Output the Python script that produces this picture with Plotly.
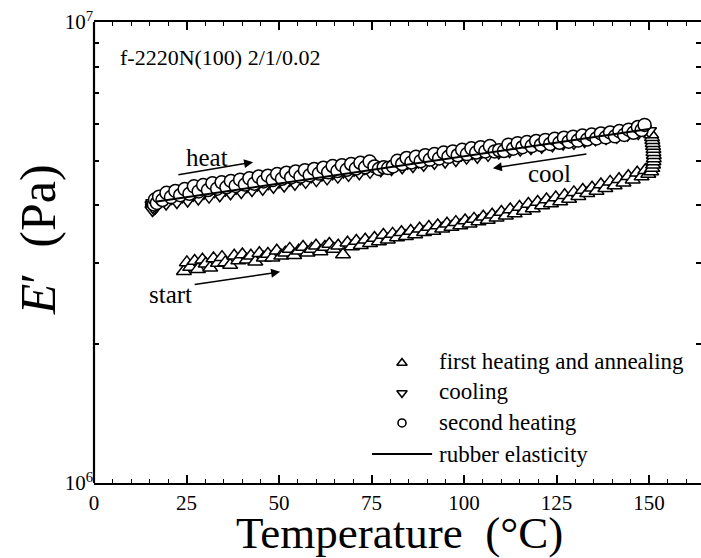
import plotly.graph_objects as go

# First heating and annealing (upward triangles): temperature in degC, modulus in MPa
first_T = [24.3, 25.1, 26.0, 27.2, 28.1, 29.3, 30.2, 31.4, 32.3, 33.5, 34.6, 35.5, 36.8, 37.9,
           39.0, 40.1, 41.3, 42.4, 43.6, 44.7, 45.9, 47.0, 48.2, 49.4, 50.6, 51.7, 52.9, 54.1,
           55.3, 56.5, 57.7, 58.8, 60.0, 61.2, 62.4, 63.6, 64.8, 66.0, 67.3, 68.5, 69.7, 70.9,
           72.1, 73.3, 74.6, 75.8, 77.0, 78.2, 79.4, 80.7, 81.9, 83.1, 84.3, 85.6, 86.8, 88.0,
           89.2, 90.5, 91.7, 92.9, 94.1, 95.4, 96.6, 97.8, 99.0, 100.3, 101.5, 102.7, 103.9,
           105.2, 106.4, 107.6, 108.8, 110.1, 111.3, 112.5, 113.7, 115.0, 116.2, 117.4, 118.6,
           119.9, 121.1, 122.3, 123.5, 124.8, 126.0, 127.2, 128.4, 129.7, 130.9, 132.1, 133.3,
           134.6, 135.8, 137.0, 138.2, 139.5, 140.7, 141.9, 143.1, 144.4, 145.6, 146.8, 148.0,
           149.0, 149.8, 150.6, 150.9, 151.1, 151.2, 151.3, 151.3, 151.2, 151.2, 151.1, 151.0,
           150.9, 150.8, 150.6]
first_E = [2.88, 3.01, 2.94, 3.03, 2.91, 3.05, 2.99, 2.93, 3.07, 3.00, 3.09, 3.01, 2.97, 3.11,
           3.04, 3.13, 3.05, 3.11, 3.02, 3.15, 3.08, 3.14, 3.08, 3.19, 3.11, 3.16, 3.22, 3.12,
           3.19, 3.25, 3.16, 3.22, 3.27, 3.18, 3.25, 3.30, 3.22, 3.27, 3.13, 3.32, 3.26, 3.35,
           3.28, 3.37, 3.31, 3.40, 3.34, 3.45, 3.37, 3.47, 3.41, 3.50, 3.43, 3.52, 3.46, 3.56,
           3.50, 3.59, 3.52, 3.62, 3.56, 3.65, 3.59, 3.68, 3.62, 3.71, 3.65, 3.74, 3.69,
           3.78, 3.72, 3.82, 3.76, 3.87, 3.80, 3.92, 3.84, 3.97, 3.89, 4.03, 3.94,
           4.07, 4.00, 4.12, 4.04, 4.16, 4.08, 4.21, 4.13, 4.27, 4.19, 4.32, 4.25,
           4.37, 4.30, 4.44, 4.36, 4.50, 4.42, 4.56, 4.48, 4.63, 4.55, 4.71, 4.62,
           4.77, 4.68, 4.74, 4.82, 4.90, 4.98, 5.06, 5.14, 5.22, 5.30, 5.38, 5.46,
           5.54, 5.62, 5.70]

# Cooling (downward triangles)
cool_T = [150.0, 148.6, 147.1, 145.7, 144.2, 142.8, 141.3, 139.9, 138.4, 137.0, 135.5, 134.1,
          132.6, 131.2, 129.7, 128.3, 126.8, 125.4, 123.9, 122.5, 121.0, 119.6, 118.1, 116.7,
          115.2, 113.8, 112.3, 110.9, 109.4, 108.0, 106.5, 105.1, 103.6, 102.2, 100.7, 99.3,
          97.8, 96.4, 94.9, 93.5, 92.0, 90.6, 89.1, 87.7, 86.2, 84.8, 83.3, 81.9, 80.4, 79.0,
          77.5, 76.1, 74.6, 73.2, 71.7, 70.3, 68.8, 67.4, 65.9, 64.5, 63.0, 61.6, 60.1, 58.7,
          57.2, 55.8, 54.3, 52.9, 51.4, 50.0, 48.5, 47.1, 45.6, 44.2, 42.7, 41.3, 39.8, 38.4,
          36.9, 35.5, 34.0, 32.6, 31.1, 29.7, 28.2, 26.8, 25.3, 23.9, 22.4, 21.0, 19.5, 18.1,
          17.0, 16.6, 16.3, 16.1, 16.0, 15.9, 15.8, 15.8, 15.9, 16.0]
cool_E = [5.80, 5.86, 5.74, 5.79, 5.70, 5.76, 5.64, 5.70, 5.60, 5.67, 5.57, 5.62,
          5.52, 5.60, 5.47, 5.56, 5.45, 5.52, 5.40, 5.48, 5.36, 5.45, 5.33, 5.40,
          5.29, 5.38, 5.25, 5.33, 5.21, 5.29, 5.15, 5.24, 5.10, 5.20, 5.08, 5.16,
          5.02, 5.12, 4.98, 5.07, 4.95, 5.04, 4.90, 4.98, 4.87, 4.95, 4.84, 4.92, 4.80, 4.89,
          4.77, 4.86, 4.73, 4.82, 4.70, 4.78, 4.66, 4.74, 4.62, 4.70, 4.58, 4.67, 4.54, 4.63,
          4.50, 4.58, 4.46, 4.55, 4.42, 4.51, 4.39, 4.47, 4.35, 4.44, 4.32, 4.40, 4.28, 4.37,
          4.25, 4.33, 4.21, 4.30, 4.18, 4.26, 4.14, 4.22, 4.10, 4.19, 4.07, 4.15, 4.04, 4.10,
          4.00, 3.96, 4.03, 3.93, 3.99, 3.95, 4.01, 3.91, 3.97, 4.05]

# Second heating (circles)
second_T = [16.2, 16.5, 17.0, 17.6, 18.5, 19.6, 20.8, 22.0, 23.3, 24.5, 25.8, 27.0, 28.3, 29.5,
            30.8, 32.0, 33.3, 34.5, 35.8, 37.0, 38.3, 39.5, 40.8, 42.0, 43.3, 44.5, 45.8, 47.0,
            48.3, 49.5, 50.8, 52.0, 53.3, 54.5, 55.8, 57.0, 58.3, 59.5, 60.8, 62.0, 63.3, 64.5,
            65.8, 67.0, 68.3, 69.5, 70.8, 72.0, 73.3, 74.5, 75.8, 77.0, 78.3, 79.5, 80.8, 82.0,
            83.3, 84.5, 85.8, 87.0, 88.3, 89.5, 90.8, 92.0, 93.3, 94.5, 95.8, 97.0, 98.3, 99.5,
            100.8, 102.0, 103.3, 104.5, 105.8, 107.0, 108.3, 109.5, 110.8, 112.0, 113.3, 114.5,
            115.8, 117.0, 118.3, 119.5, 120.8, 122.0, 123.3, 124.5, 125.8, 127.0, 128.3, 129.5,
            130.8, 132.0, 133.3, 134.5, 135.8, 137.0, 138.3, 139.5, 140.8, 142.0, 143.3, 144.5,
            145.8, 147.0, 148.0, 148.8]
second_E = [4.02, 4.12, 4.05, 4.18, 4.11, 4.26, 4.17, 4.30, 4.21, 4.34, 4.24, 4.40, 4.29, 4.43,
            4.32, 4.47, 4.35, 4.49, 4.38, 4.52, 4.41, 4.55, 4.44, 4.58, 4.46, 4.62, 4.51, 4.64,
            4.54, 4.68, 4.57, 4.71, 4.60, 4.74, 4.62, 4.77, 4.65, 4.80, 4.69, 4.83, 4.72, 4.87,
            4.75, 4.89, 4.78, 4.92, 4.81, 4.95, 4.84, 4.98, 4.86, 4.80, 4.84, 4.82, 4.86, 5.00,
            4.92, 5.07, 4.96, 5.10, 4.99, 5.14, 5.03, 5.17, 5.06, 5.21, 5.10, 5.24, 5.14, 5.28,
            5.17, 5.32, 5.21, 5.35, 5.24, 5.38, 5.24, 5.27, 5.25, 5.42, 5.31, 5.46,
            5.35, 5.49, 5.38, 5.52, 5.41, 5.55, 5.44, 5.58, 5.47, 5.61, 5.50, 5.64,
            5.53, 5.67, 5.56, 5.70, 5.59, 5.73, 5.62, 5.76, 5.65, 5.80, 5.69, 5.84,
            5.75, 5.92, 5.83, 5.98]

# Rubber elasticity prediction
rubber_T = [17.0, 150.0]
rubber_E = [4.08, 5.86]

x_ticks = [0, 25, 50, 75, 100, 125, 150]
y_ticks = [1, 2, 3, 4, 5, 6, 7, 8, 9, 10]
y_tick_text = ["10<sup>6</sup>", "", "", "", "", "", "", "", "", "10<sup>7</sup>"]

legend_labels = ["first heating and annealing", "cooling", "second heating", "rubber elasticity"]

FONT = "Liberation Serif"
MPA = 1e6


def pa(values):
    return [v * MPA for v in values]


open_marker = dict(color="white", line=dict(color="black", width=1.5))

fig = go.Figure()
fig.add_trace(go.Scatter(x=first_T, y=pa(first_E), mode="markers",
                         marker=dict(symbol="triangle-up", size=13, **open_marker)))
fig.add_trace(go.Scatter(x=cool_T, y=pa(cool_E), mode="markers",
                         marker=dict(symbol="triangle-down", size=13, **open_marker)))
fig.add_trace(go.Scatter(x=second_T, y=pa(second_E), mode="markers",
                         marker=dict(symbol="circle", size=13, **open_marker)))
fig.add_trace(go.Scatter(x=rubber_T, y=pa(rubber_E), mode="lines",
                         line=dict(color="black", width=2)))

# legend glyphs on a helper overlay in paper-like units
leg_x = 0.5074
leg_rows = [0.2603, 0.1952, 0.1302, 0.0629]
fig.add_trace(go.Scatter(x=[leg_x], y=[leg_rows[0]], xaxis="x2", yaxis="y2", mode="markers",
                         marker=dict(symbol="triangle-up", size=9,
                                     color="white", line=dict(color="black", width=1.6))))
fig.add_trace(go.Scatter(x=[leg_x], y=[leg_rows[1]], xaxis="x2", yaxis="y2", mode="markers",
                         marker=dict(symbol="triangle-down", size=9,
                                     color="white", line=dict(color="black", width=1.6))))
fig.add_trace(go.Scatter(x=[leg_x], y=[leg_rows[2]], xaxis="x2", yaxis="y2", mode="markers",
                         marker=dict(symbol="circle", size=8,
                                     color="white", line=dict(color="black", width=1.6))))
fig.add_trace(go.Scatter(x=[0.458, 0.557], y=[leg_rows[3], leg_rows[3]], xaxis="x2", yaxis="y2",
                         mode="lines", line=dict(color="black", width=2)))

annotations = []
for label, yy in zip(legend_labels, [0.2625, 0.1974, 0.1302, 0.0629]):
    annotations.append(dict(text=label, xref="paper", yref="paper", x=0.5651, y=yy,
                            xanchor="left", yanchor="middle", showarrow=False,
                            font=dict(family=FONT, size=23, color="black")))

annotations += [
    dict(text="f-2220N(100) 2/1/0.02", xref="paper", yref="paper", x=0.0395, y=0.922,
         xanchor="left", yanchor="middle", showarrow=False,
         font=dict(family=FONT, size=22, color="black")),
    dict(text="heat", xref="x", yref="y", x=30.5, y=6.705, showarrow=False,
         font=dict(family=FONT, size=25, color="black")),
    dict(text="cool", xref="x", yref="y", x=123.2, y=6.672, showarrow=False,
         font=dict(family=FONT, size=25, color="black")),
    dict(text="start", xref="x", yref="y", x=20.8, y=6.408, showarrow=False,
         font=dict(family=FONT, size=25, color="black")),
    # direction arrows
    dict(text="", xref="x", yref="y", axref="x", ayref="y", x=43.0, y=6.696, ax=22.4, ay=6.668,
         showarrow=True, arrowhead=2, arrowsize=1.2, arrowwidth=1.5, arrowcolor="black"),
    dict(text="", xref="x", yref="y", axref="x", ayref="y", x=107.8, y=6.683, ax=133.5, ay=6.714,
         showarrow=True, arrowhead=2, arrowsize=1.2, arrowwidth=1.5, arrowcolor="black"),
    dict(text="", xref="x", yref="y", axref="x", ayref="y", x=50.3, y=6.458, ax=26.8, ay=6.430,
         showarrow=True, arrowhead=2, arrowsize=1.2, arrowwidth=1.5, arrowcolor="black"),
    # axis titles
    dict(text="Temperature  (°C)", xref="paper", yref="paper", x=0.5025, y=-0.1085,
         xanchor="center", yanchor="middle", showarrow=False,
         font=dict(family=FONT, size=45, color="black")),
    dict(text="<i>E</i>′  (Pa)", xref="paper", yref="paper", x=-0.092, y=0.527,
         xanchor="center", yanchor="middle", showarrow=False, textangle=-90,
         font=dict(family=FONT, size=50, color="black")),
]

fig.update_layout(
    width=701, height=558,
    margin=dict(l=94, r=0, t=22, b=75),
    paper_bgcolor="white", plot_bgcolor="white",
    showlegend=False,
    font=dict(family=FONT, color="black"),
    xaxis=dict(range=[0, 164.05], tickmode="array", tickvals=x_ticks,
               ticks="inside", ticklen=8, tickwidth=1.5, tickcolor="black",
               minor=dict(dtick=5, ticks="inside", ticklen=4, tickwidth=1.3, tickcolor="black"),
               showline=True, linewidth=2, linecolor="black", mirror="ticks",
               showgrid=False, zeroline=False, automargin=False,
               tickfont=dict(family=FONT, size=21, color="black")),
    yaxis=dict(type="log", range=[6, 7], tickmode="array",
               tickvals=[v * MPA for v in y_ticks], ticktext=y_tick_text,
               ticks="inside", ticklen=5, tickwidth=1.5, tickcolor="black",
               showline=False, mirror="ticks",
               showgrid=False, zeroline=False, automargin=False,
               tickfont=dict(family=FONT, size=21, color="black")),
    xaxis2=dict(range=[0, 1], overlaying="x", visible=False, fixedrange=True),
    yaxis2=dict(range=[0, 1], overlaying="y", visible=False, fixedrange=True),
    annotations=annotations,
    shapes=[dict(type="line", xref="paper", yref="paper", x0=0, x1=0, y0=0, y1=1,
                 line=dict(color="black", width=2.2))],
)

fig.write_html("out.html")
